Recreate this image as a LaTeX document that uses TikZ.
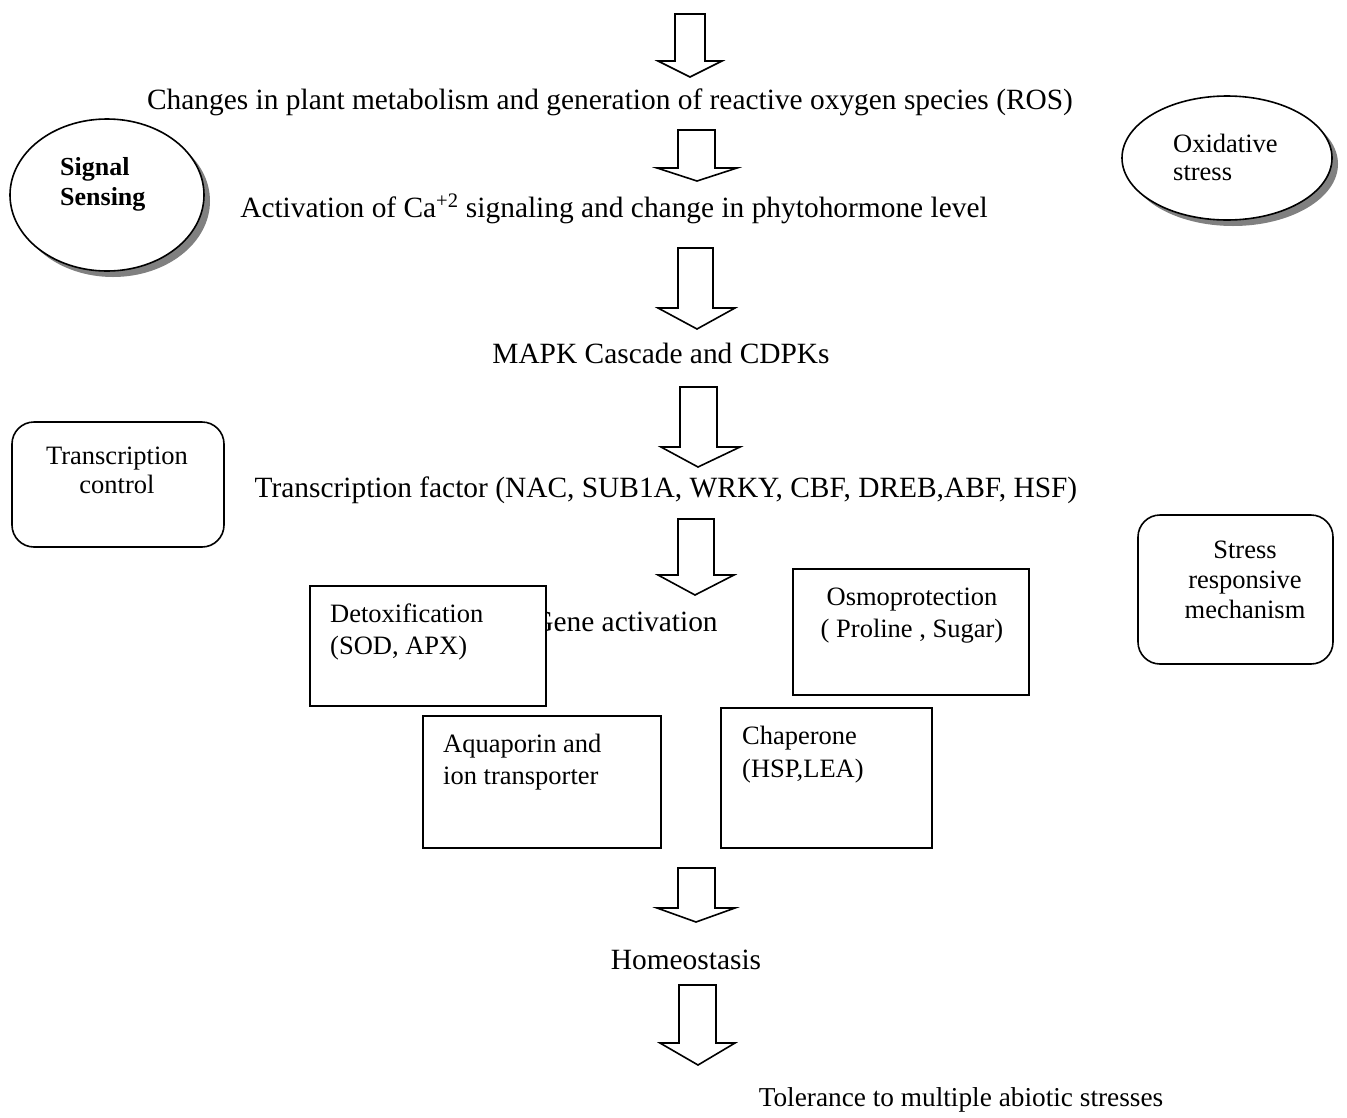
\documentclass[tikz,border=0pt]{standalone}
\usepackage{fontspec}
\setmainfont{Liberation Serif}
\usetikzlibrary{shapes.geometric}
\begin{document}
\begin{tikzpicture}[x=1pt,y=-1pt,
  main/.style={font=\fontsize{29.4}{32}\selectfont, inner sep=0pt, anchor=base},
  boxtxt/.style={font=\fontsize{26.5}{32}\selectfont, inner sep=0pt, anchor=base west, align=left},
  ctrtxt/.style={font=\fontsize{26.5}{30}\selectfont, inner sep=0pt, anchor=base, align=center},
  sqbox/.style={draw, line width=1.6pt, fill=white, rectangle, inner sep=0pt},
  rbox/.style={draw, line width=1.6pt, fill=white, rectangle, rounded corners=22pt, inner sep=0pt},
  ell/.style={draw, line width=1.6pt, fill=white, ellipse, inner sep=0pt},
  shadow/.style={fill=black!50, ellipse, inner sep=0pt},
  barrow/.style={draw, line width=1.6pt, fill=white, line join=miter}
]
\useasboundingbox (0,0) rectangle (1347,1117);
\fill[white] (0,0) rectangle (1347,1117);

% block arrows
\draw[barrow] (675,14) -- (705,14) -- (705,61) -- (722,61) -- (690,77) -- (658,61) -- (675,61) -- cycle;
\draw[barrow] (678,130) -- (715,130) -- (715,168) -- (737,168) -- (697,181) -- (657,168) -- (678,168) -- cycle;
\draw[barrow] (678,248) -- (713,248) -- (713,308) -- (735,308) -- (697,329) -- (658,308) -- (678,308) -- cycle;
\draw[barrow] (680,387) -- (717,387) -- (717,447) -- (740,447) -- (698,467) -- (661,447) -- (680,447) -- cycle;
\draw[barrow] (678,519) -- (714,519) -- (714,575) -- (734,575) -- (695,595) -- (658,575) -- (678,575) -- cycle;
\draw[barrow] (678,868) -- (715,868) -- (715,908) -- (735,908) -- (696,922) -- (657,908) -- (678,908) -- cycle;
\draw[barrow] (679,985) -- (716,985) -- (716,1043) -- (735,1043) -- (698,1065) -- (660,1043) -- (679,1043) -- cycle;

% main flow texts
\node[main] (t1) at (610,109) {Changes in plant metabolism and generation of reactive oxygen species (ROS)};
\node[main] (t2) at (614,217) {Activation of Ca\textsuperscript{+2} signaling and change in phytohormone level};
\node[main] (t3) at (661,363) {MAPK Cascade and CDPKs};
\node[main] (t4) at (666,497) {Transcription factor (NAC, SUB1A, WRKY, CBF, DREB,ABF, HSF)};
\node[main] (t5) at (625,631) {Gene activation};
\node[main] (t6) at (686,969) {Homeostasis};
\node[main, font=\fontsize{27.3}{32}\selectfont] (t7) at (961,1106) {Tolerance to multiple abiotic stresses};

% ellipses with shadows
\node[shadow, minimum width=194pt, minimum height=152pt] (sigsh) at (113,201) {};
\node[ell, minimum width=194pt, minimum height=152pt] (sig) at (107,195) {};
\node[boxtxt, font=\fontsize{26}{30}\selectfont\bfseries] (sigt) at (60,205) {Signal\\Sensing};

\node[shadow, minimum width=210pt, minimum height=124pt] (oxsh) at (1233,164) {};
\node[ell, minimum width=210pt, minimum height=124pt] (ox) at (1227,158) {};
\node[boxtxt, font=\fontsize{26.5}{28}\selectfont] (oxt) at (1173,180) {Oxidative\\stress};

% rounded boxes
\node[rbox, minimum width=212pt, minimum height=125pt] (tc) at (118,484.5) {};
\node[ctrtxt, font=\fontsize{26.5}{29}\selectfont] (tct) at (117,493) {Transcription\\control};
\node[rbox, minimum width=195pt, minimum height=149pt] (sr) at (1235.5,589.5) {};
\node[ctrtxt] (srt) at (1245,618) {Stress\\responsive\\mechanism};

% square boxes
\node[sqbox, minimum width=236pt, minimum height=120pt] (detox) at (428,646) {};
\node[boxtxt] (detoxt) at (330,654) {Detoxification\\(SOD, APX)};
\node[sqbox, minimum width=236pt, minimum height=126pt] (osmo) at (911,632) {};
\node[boxtxt, anchor=base, align=center] (osmot) at (912,637) {Osmoprotection\\( Proline , Sugar)};
\node[sqbox, minimum width=238pt, minimum height=132pt] (aqua) at (542,782) {};
\node[boxtxt] (aquat) at (443,784) {Aquaporin and\\ion transporter};
\node[sqbox, minimum width=211pt, minimum height=140pt] (chap) at (826.5,778) {};
\node[boxtxt, font=\fontsize{26.5}{33}\selectfont] (chapt) at (742,777) {Chaperone\\(HSP,LEA)};
\end{tikzpicture}
\end{document}
